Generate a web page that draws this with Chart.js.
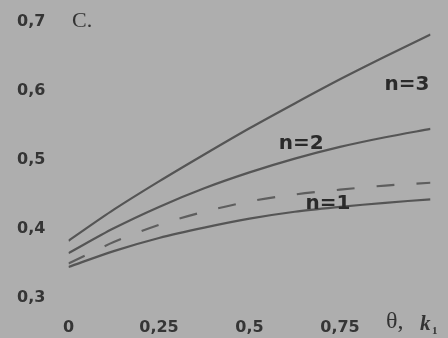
<!DOCTYPE html>
<html>
<head>
<meta charset="utf-8">
<script src="https://cdn.jsdelivr.net/npm/chart.js@4"></script>
<style>
  html, body { margin: 0; padding: 0; background: #aeaeae; }
  #wrap { width: 448px; height: 338px; }
</style>
</head>
<body>
<div id="wrap"><canvas id="chart" width="448" height="338"></canvas></div>
<script>
// theta / k1 values along x
const theta = [0, 0.125, 0.25, 0.375, 0.5, 0.625, 0.75, 0.875, 1];
// curves
const n3 = [0.383, 0.428, 0.469, 0.508, 0.546, 0.582, 0.617, 0.650, 0.682];
const n2 = [0.365, 0.401, 0.432, 0.459, 0.482, 0.502, 0.519, 0.533, 0.545];
const n1 = [0.345, 0.368, 0.387, 0.402, 0.415, 0.425, 0.432, 0.438, 0.443];
const dashed = [0.350, 0.381, 0.406, 0.425, 0.440, 0.450, 0.457, 0.463, 0.467];

const xTicks = [0, 0.25, 0.5, 0.75];
const xTickLabels = ['0', '0,25', '0,5', '0,75'];
const yTicks = [0.7, 0.6, 0.5, 0.4, 0.3];
const yTickLabels = ['0,7', '0,6', '0,5', '0,4', '0,3'];

const curveLabels = ['n=3', 'n=2', 'n=1'];
const curveLabelX = [0.935, 0.643, 0.717];
const curveLabelY = [0.609, 0.523, 0.436];

const pts = ys => theta.map((t, i) => ({ x: t, y: ys[i] }));

const BG = '#aeaeae';
const INK = '#353535';

const textPlugin = {
    id: 'texts',
    beforeDraw(chart) {
        const c = chart.ctx;
        c.save();
        c.fillStyle = BG;
        c.fillRect(0, 0, chart.width, chart.height);
        c.restore();
    },
    afterDraw(chart) {
        const c = chart.ctx;
        const xs = chart.scales.x, ys = chart.scales.y;
        c.save();
        c.fillStyle = INK;
        c.font = 'bold 16px "DejaVu Sans"';
        c.textBaseline = 'middle';

        // y tick labels
        c.textAlign = 'left';
        yTicks.forEach((v, i) => c.fillText(yTickLabels[i], 17, ys.getPixelForValue(v)));

        // x tick labels
        c.textAlign = 'center';
        xTicks.forEach((v, i) => c.fillText(xTickLabels[i], xs.getPixelForValue(v), 328));

        // curve labels
        c.font = 'bold 20px "DejaVu Sans"';
        c.fillStyle = '#2a2a2a';
        curveLabels.forEach((t, i) =>
            c.fillText(t, xs.getPixelForValue(curveLabelX[i]), ys.getPixelForValue(curveLabelY[i])));

        // axis titles
        c.fillStyle = '#333';
        c.textAlign = 'left';
        c.font = '22px "Liberation Serif"';
        c.fillText('C.', 72, 21);
        c.font = '24px "Liberation Serif"';
        c.fillText('θ,', 386, 322);
        c.font = 'bold italic 21px "Liberation Serif"';
        c.fillText('k', 420, 325);
        c.font = 'bold 11px "Liberation Serif"';
        c.fillText('1', 432, 331);
        c.restore();
    }
};

const solid = (data) => ({
    data: pts(data),
    borderColor: '#555',
    borderWidth: 2.2,
    pointRadius: 0,
    tension: 0.3,
    fill: false,
});

new Chart(document.getElementById('chart'), {
    type: 'line',
    data: {
        datasets: [
            solid(n3),
            solid(n2),
            solid(n1),
            { ...solid(dashed), borderColor: '#5e5e5e', borderDash: [18, 22] },
        ]
    },
    options: {
        responsive: false,
        animation: false,
        events: [],
        layout: { padding: { left: 68.5, right: 17.5, top: 22, bottom: 40 } },
        plugins: { legend: { display: false }, tooltip: { enabled: false } },
        scales: {
            x: { type: 'linear', min: 0, max: 1, display: false },
            y: { min: 0.3, max: 0.7, display: false },
        },
    },
    plugins: [textPlugin],
});
</script>
</body>
</html>
